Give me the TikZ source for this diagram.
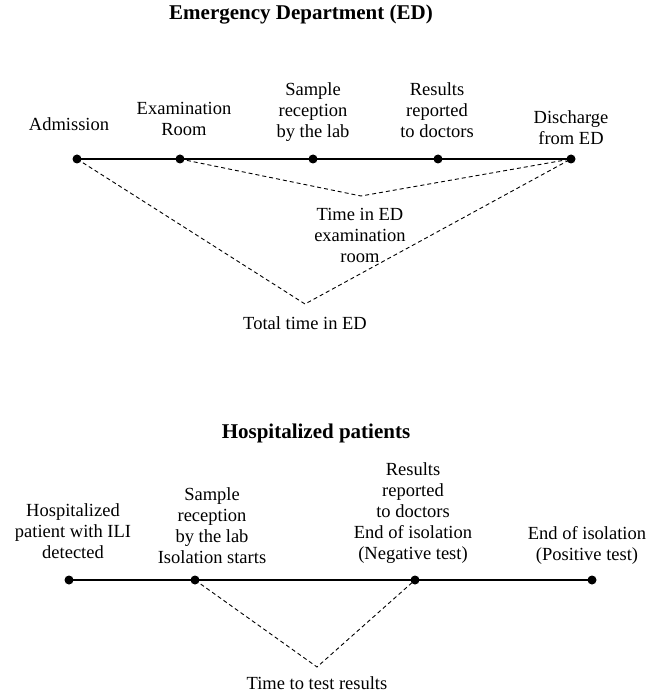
\documentclass[tikz,border=0pt]{standalone}
\usepackage{fontspec}
\setmainfont{Liberation Serif}
\begin{document}
\begin{tikzpicture}[x=1pt,y=-1pt,
  lbl/.style={align=center,font=\fontsize{18.5}{21}\selectfont,inner sep=0pt},
  ttl/.style={font=\fontsize{21}{24}\selectfont\bfseries,inner sep=0pt},
  dot/.style={circle,fill=black,inner sep=0pt,minimum size=9pt},
  tline/.style={line width=1.4pt},
  dline/.style={line width=0.9pt,dash pattern=on 4pt off 3pt}]
\useasboundingbox (0,0) rectangle (647,692);

% ---------- Emergency Department ----------
\node[ttl] (t1) at (301,15) {Emergency Department (ED)};

\node[dot] (a1) at (77,159) {};
\node[dot] (a2) at (180,159) {};
\node[dot] (a3) at (313,159) {};
\node[dot] (a4) at (438,159) {};
\node[dot] (a5) at (571,159) {};
\draw[tline] (a1.center) -- (a5.center);

\node[lbl] (l1) at (69,124) {Admission};
\node[lbl] (l2) at (184,119) {Examination\\Room};
\node[lbl] (l3) at (313,112) {Sample\\reception\\by the lab};
\node[lbl] (l4) at (437,110) {Results\\reported\\to doctors};
\node[lbl] (l5) at (571,128) {Discharge\\from ED};

\coordinate (v1) at (361,196);
\coordinate (v2) at (305,304);
\draw[dline] (a2.center) -- (v1) -- (a5.center);
\draw[dline] (a1.center) -- (v2) -- (a5.center);

\node[lbl] (m1) at (360,235) {Time in ED\\examination\\room};
\node[lbl] (m2) at (305,323) {Total time in ED};

% ---------- Hospitalized patients ----------
\node[ttl] (t2) at (316,433) {Hospitalized patients};

\node[dot] (b1) at (69,580) {};
\node[dot] (b2) at (195,580) {};
\node[dot] (b3) at (415,580) {};
\node[dot] (b4) at (592,580) {};
\draw[tline] (b1.center) -- (b4.center);

\node[lbl] (k1) at (73,531) {Hospitalized\\patient with ILI\\detected};
\node[lbl] (k2) at (212,526) {Sample\\reception\\by the lab\\Isolation starts};
\node[lbl] (k3) at (413,513) {Results\\reported\\to doctors\\End of isolation\\(Negative test)};
\node[lbl] (k4) at (587,545) {End of isolation\\(Positive test)};

\coordinate (w1) at (317,667);
\draw[dline] (b2.center) -- (w1) -- (b3.center);
\node[lbl] (n1) at (317,683) {Time to test results};
\end{tikzpicture}
\end{document}
